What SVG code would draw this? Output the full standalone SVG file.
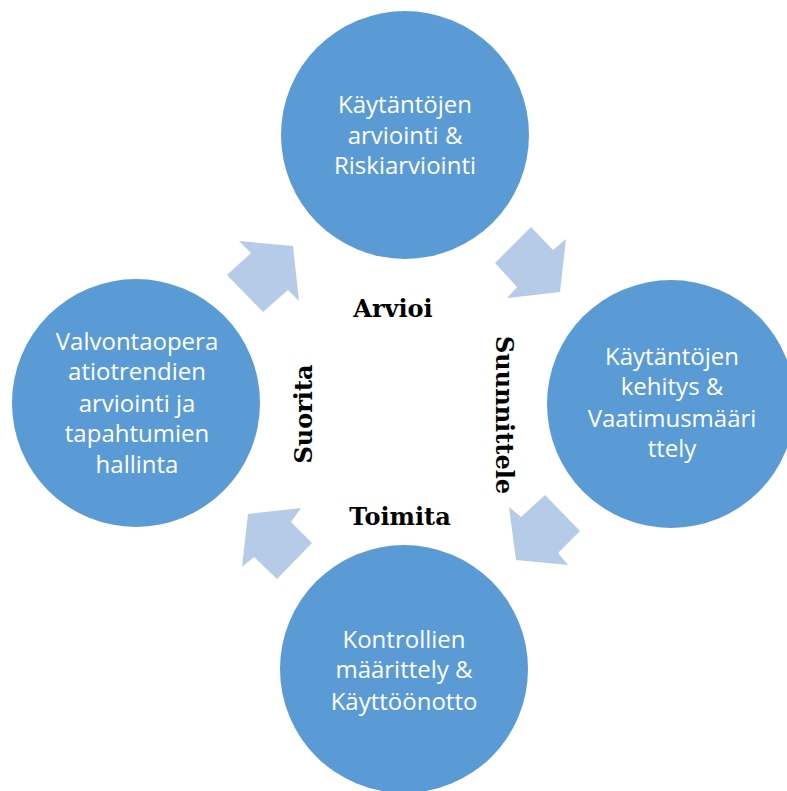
<svg xmlns="http://www.w3.org/2000/svg" width="787" height="791" viewBox="0 0 787 791">
  <style>
    .node { fill: #5B9BD5; }
    .node-text { fill: #FFFFFF; font-family: "Open Sans", "Liberation Sans", sans-serif; font-size: 24px; text-anchor: middle; }
    .arrow { fill: #B6CBE8; }
    .phase { fill: #000000; font-family: "DejaVu Serif", "Liberation Serif", serif; font-weight: bold; font-size: 24px; text-anchor: middle; }
  </style>
  <rect width="787" height="791" fill="#FFFFFF"/>

  <!-- cycle arrows between the four stages -->
  <g id="connectors">
    <polygon class="arrow" points="239,241 293,246 299,301 288,290 263,312 227,275 251,253"/>
    <polygon class="arrow" points="531,227 553,250 566,239 560,292 507,298 517,287 495,263"/>
    <polygon class="arrow" points="545,495 580,531 558,553 568,565 516,560 509,507 521,517"/>
    <polygon class="arrow" points="248,514 301,508 291,522 312,543 277,579 254,557 242,567"/>
  </g>

  <g id="node-assess">
    <circle class="node" cx="405" cy="135" r="124"/>
    <text class="node-text" x="405" y="113">Käytäntöjen</text>
    <text class="node-text" x="405" y="144">arviointi &amp;</text>
    <text class="node-text" x="405" y="174">Riskiarviointi</text>
  </g>

  <g id="node-plan">
    <circle class="node" cx="671" cy="404" r="124"/>
    <text class="node-text" x="672" y="365">Käytäntöjen</text>
    <text class="node-text" x="672" y="395">kehitys &amp;</text>
    <text class="node-text" x="672" y="427">Vaatimusmääri</text>
    <text class="node-text" x="672" y="457">ttely</text>
  </g>

  <g id="node-deliver">
    <circle class="node" cx="404" cy="669" r="124"/>
    <text class="node-text" x="404" y="648">Kontrollien</text>
    <text class="node-text" x="404" y="678">määrittely &amp;</text>
    <text class="node-text" x="404" y="710">Käyttöönotto</text>
  </g>

  <g id="node-operate">
    <circle class="node" cx="136" cy="403" r="124"/>
    <text class="node-text" x="137" y="350">Valvontaopera</text>
    <text class="node-text" x="137" y="380">atiotrendien</text>
    <text class="node-text" x="137" y="412">arviointi ja</text>
    <text class="node-text" x="137" y="442">tapahtumien</text>
    <text class="node-text" x="137" y="473">hallinta</text>
  </g>

  <!-- phase labels inside the cycle -->
  <g id="phase-labels">
    <text class="phase" x="393" y="317">Arvioi</text>
    <text class="phase" transform="translate(496,415) rotate(90)">Suunnittele</text>
    <text class="phase" x="400" y="525">Toimita</text>
    <text class="phase" transform="translate(312,414) rotate(-90)">Suorita</text>
  </g>
</svg>
